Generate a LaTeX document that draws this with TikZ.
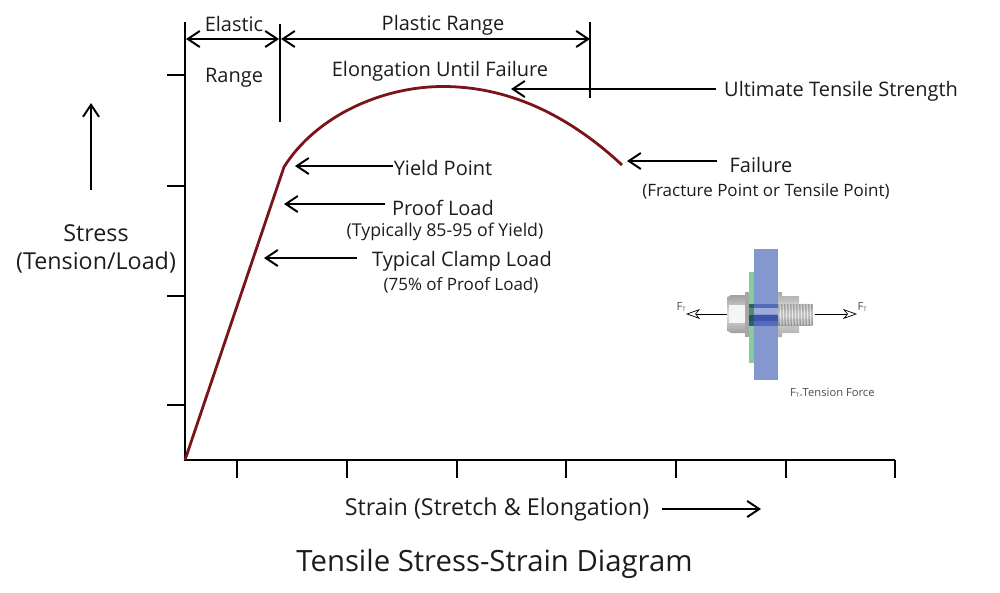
\documentclass[tikz,border=0pt]{standalone}
\usepackage{fontspec}
\setmainfont{Open Sans}
\usetikzlibrary{arrows.meta}
\definecolor{curvered}{HTML}{7A1418}
\definecolor{plateblue}{HTML}{8497CE}
\definecolor{platedark}{HTML}{3F58B5}
\definecolor{washgreen}{HTML}{86CC9C}
\definecolor{txt}{HTML}{1C1C1C}
\tikzset{
  axisline/.style={line width=2pt,black},
  barb/.tip={Straight Barb[length=12pt,width=16pt,line width=2pt]},
  ptr/.style={line width=2pt,black,-barb},
  dim/.style={line width=2pt,black,barb-barb},
  lab/.style={inner sep=0pt,text=txt,font=\fontsize{20}{23}\selectfont,align=center},
  biglab/.style={inner sep=0pt,text=txt,font=\fontsize{23.3}{28}\selectfont,align=center},
  sublab/.style={inner sep=0pt,text=txt,font=\fontsize{17}{19}\selectfont,align=center},
  widesub/.style={inner sep=0pt,text=txt,font=\fontsize{17.7}{19}\selectfont,align=center},
  tinylab/.style={inner sep=0pt,text=black!70,font=\fontsize{11.2}{12}\selectfont},
  thinptr/.style={line width=1pt,black,-{Stealth[length=14pt,width=10pt,inset=4pt,open,fill=white,line width=0.7pt]}},
}
\begin{document}
\begin{tikzpicture}[x=1pt,y=-1pt]
\useasboundingbox (0,0) rectangle (1000,592);
% axes
\coordinate (o) at (185,460);
\coordinate (ytop) at (185,22);
\coordinate (xend) at (895,460);
\draw[axisline] (ytop) -- (o) -- (xend);
\foreach \yy in {75,186,296,405} \draw[axisline] (167,\yy) -- (185,\yy);
\foreach \xx in {237,347,457,566,676,786,895} \draw[axisline] (\xx,460) -- (\xx,478);
% range dividers
\coordinate (d1a) at (280,24); \coordinate (d1b) at (280,122);
\coordinate (d2a) at (590,22); \coordinate (d2b) at (590,98);
\draw[axisline] (d1a) -- (d1b);
\draw[axisline] (d2a) -- (d2b);
% curve
\draw[curvered,line width=2.8pt,line join=round] (o) -- (284,167)
  .. controls (316,116) and (382,86.5) .. (443,86.5)
  .. controls (505,86.5) and (565,112) .. (622,165);
% dimension arrows
\coordinate (e1) at (186,39); \coordinate (e2) at (279,39); \coordinate (p1) at (281,39); \coordinate (p2) at (590,39);
\draw[dim] (e1) -- (e2);
\draw[dim] (p1) -- (p2);
% labels
\node[lab] (elastic) at (234,24) {Elastic};
\node[lab] (range) at (234,78) {Range};
\node[lab] (plastic) at (443,25) {Plastic Range};
\node[lab] (elong) at (440,71) {Elongation Until Failure};
\node[lab,anchor=west] (uts) at (724,91) {Ultimate Tensile Strength};
\node[lab] (yield) at (443,168) {Yield Point};
\node[lab] (proof) at (443,208) {Proof Load};
\node[widesub] (proofs) at (445,232) {(Typically 85-95 of Yield)};
\node[lab] (clamp) at (462,261) {Typical Clamp Load};
\node[sublab] (clamps) at (461,285) {(75\% of Proof Load)};
\node[lab] (failure) at (761,165) {Failure};
\node[sublab] (fails) at (766,191) {(Fracture Point or Tensile Point)};
\node[biglab] (stress) at (96,233) {Stress};
\node[biglab] (tension) at (96,262) {(Tension/Load)};
\node[biglab] (strain) at (497,509.5) {Strain (Stretch \& Elongation)};
\node[inner sep=0pt,text=txt,font=\fontsize{29.3}{32}\selectfont] (title) at (494.5,564) {Tensile Stress-Strain Diagram};
% pointers
\coordinate (py) at (295,166); \coordinate (ppl) at (284,204); \coordinate (pc) at (264,258);
\coordinate (pf) at (627,161); \coordinate (pu) at (511,89); \coordinate (st) at (91,103);
\coordinate (sn) at (761,509);
\draw[ptr] (393,166) -- (py);
\draw[ptr] (385,204) -- (ppl);
\draw[ptr] (357,258) -- (pc);
\draw[ptr] (717,161) -- (pf);
\draw[ptr] (716,89) -- (pu);
\draw[ptr] (91,190) -- (st);
\draw[ptr] (662,509) -- (sn);
% bolt picture
\fill[gray!70] (745,292) rectangle (749.5,337);
\shade[top color=gray!75,bottom color=gray!75,middle color=gray!25] (727.7,297) -- (731,295) -- (745,295) -- (745,333) -- (731,333) -- (727.7,331) -- cycle;
\fill[white!92!gray] (729,305) rectangle (745,323);
\fill[washgreen] (748.7,272) rectangle (754.3,363);
\fill[plateblue] (754.3,249.3) rectangle (778.3,379.7);
\fill[platedark!70!plateblue] (749.3,303.5) rectangle (778.3,307.5);
\fill[plateblue!80!white] (749.3,307.5) rectangle (778.3,314);
\fill[platedark!95!black] (749.3,315) rectangle (778.3,321);
\fill[platedark!70!plateblue] (749.3,321) rectangle (778.3,325.5);
\fill[green!35!black,opacity=.45] (749.3,303.5) rectangle (754.3,325.5);
\shade[top color=gray!65,bottom color=gray!65,middle color=gray!25] (778.3,292) -- (782,292) -- (782,296) -- (799,296) -- (799,333) -- (782,333) -- (782,337) -- (778.3,337) -- cycle;
\shade[top color=gray!80,bottom color=gray!90,middle color=gray!45] (778.3,304) rectangle (812.7,325);
\foreach \tx in {780,783,...,810} \draw[gray!20,line width=0.9pt] (\tx,303) -- (\tx+1,326);
\coordinate (fl) at (686,314); \coordinate (fr) at (857,314);
\coordinate (fl0) at (726.7,314); \coordinate (fr0) at (815,314);
\draw[thinptr] (fl0) -- (fl);
\draw[thinptr] (fr0) -- (fr);
\node[tinylab,anchor=west] (ft1) at (676.5,307) {F\raisebox{-0.3pt}{\fontsize{6}{6}\selectfont T}};
\node[tinylab,anchor=west] (ft2) at (857.5,307) {F\raisebox{-0.3pt}{\fontsize{6}{6}\selectfont T}};
\node[tinylab,anchor=west] (ftn) at (790,393) {F\raisebox{-0.3pt}{\fontsize{6}{6}\selectfont T=}Tension Force};
\end{tikzpicture}
\end{document}
